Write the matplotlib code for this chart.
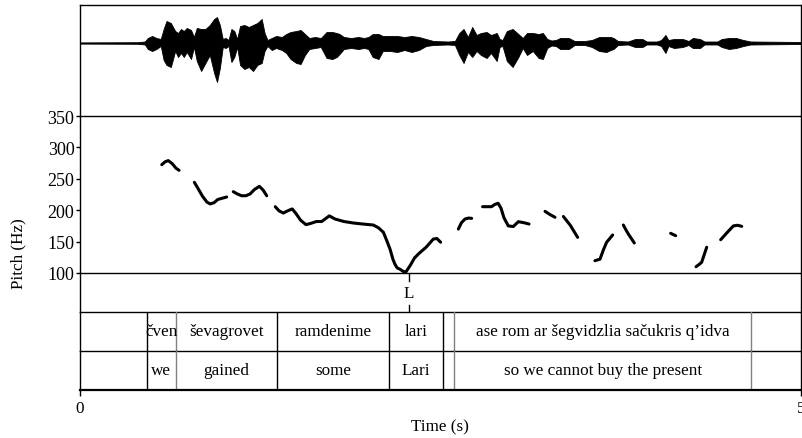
import numpy as np
import matplotlib
matplotlib.use("Agg")
import matplotlib.pyplot as plt

plt.rcParams['font.family'] = ['Liberation Serif', 'DejaVu Serif']

# ---------------- data ----------------
# waveform amplitude envelope (arbitrary units)
wave_t = [0.00, 0.40, 0.45, 0.47, 0.50, 0.53, 0.56, 0.58, 0.60, 0.63, 0.66, 0.68, 0.70, 0.72, 0.74,
          0.77, 0.79, 0.81, 0.84, 0.87, 0.90, 0.93, 0.95, 0.97, 0.99, 1.01, 1.03, 1.05, 1.07, 1.09,
          1.11, 1.14, 1.17, 1.20, 1.23, 1.26, 1.28, 1.30, 1.33, 1.36, 1.40, 1.43, 1.46, 1.50, 1.53,
          1.56, 1.59, 1.63, 1.67, 1.71, 1.75, 1.78, 1.80, 1.83, 1.88, 1.93, 1.97, 2.00, 2.03, 2.07,
          2.10, 2.15, 2.20, 2.25, 2.30, 2.35, 2.40, 2.45, 2.55, 2.60, 2.63, 2.66, 2.69, 2.72, 2.75,
          2.78, 2.82, 2.85, 2.89, 2.91, 2.93, 2.96, 3.00, 3.04, 3.07, 3.10, 3.14, 3.18, 3.21, 3.24,
          3.27, 3.30, 3.33, 3.39, 3.43, 3.50, 3.55, 3.60, 3.65, 3.68, 3.70, 3.73, 3.80, 3.85, 3.90,
          3.93, 4.00, 4.03, 4.06, 4.08, 4.12, 4.18, 4.22, 4.25, 4.30, 4.33, 4.42, 4.45, 4.50, 4.55,
          4.60, 4.65, 5.00]
wave_up = [0.6, 0.8, 1.5, 5, 7, 5, 4, 14, 22, 20, 12, 10, 14, 12, 15,
           13, 6, 15, 14, 14, 18, 24, 26, 18, 4, 5, 3, 14, 12, 4,
           17, 18, 16, 18, 20, 24, 10, 3, 5, 7, 6, 9, 11, 12, 13,
           9, 5, 6, 5, 11, 11, 10, 9, 6, 5, 6, 5, 6, 9, 9,
           7, 7, 7, 6, 7, 6, 4, 2, 1.5, 2, 10, 14, 6, 16, 8,
           10, 11, 8, 10, 4, 3, 12, 14, 9, 5, 10, 10, 9, 10, 4,
           2.5, 3, 5, 5, 2, 2, 3, 6, 6, 6, 5, 2, 1.5, 4, 4,
           1.5, 1.5, 3, 8, 3, 4, 4, 2, 5, 4, 1.5, 1.5, 4, 5, 5,
           3, 1.5, 1]
wave_lo = [0.6, 0.8, 1.5, 6, 8, 6, 3, 17, 22, 24, 8, 14, 10, 14, 9,
           16, 4, 18, 28, 20, 12, 30, 39, 25, 4, 5, 3, 19, 14, 4,
           22, 26, 24, 28, 22, 20, 8, 3, 7, 5, 7, 10, 16, 20, 21,
           12, 6, 5, 4, 15, 16, 14, 11, 6, 5, 6, 5, 6, 14, 16,
           8, 8, 9, 7, 9, 7, 3, 2, 1.5, 2, 12, 20, 9, 14, 8,
           12, 15, 10, 18, 4, 3, 18, 24, 14, 5, 12, 8, 15, 16, 5,
           2.5, 3, 6, 6, 2, 2, 4, 8, 9, 7, 6, 2, 1.5, 4, 4,
           1.5, 1.5, 3, 10, 3, 5, 4, 2, 5, 5, 1.5, 1.5, 4, 6, 5,
           3, 1.5, 1]

# pitch contour (s, Hz); None separates voiced stretches
pitch_t = [0.567, 0.59, 0.612, 0.64, 0.665, 0.687, None,
           0.793, 0.82, 0.85, 0.88, 0.902, 0.93, 0.955, 0.985, 1.017, None,
           1.063, 1.09, 1.12, 1.15, 1.18, 1.21, 1.244, 1.27, 1.295, None,
           1.354, 1.38, 1.41, 1.44, 1.472, 1.50, 1.53, 1.567, 1.60, 1.64, 1.676, 1.70, 1.729, 1.768,
           1.83, 1.896, 1.96, 2.034, 2.07, 2.104, 2.13, 2.15, 2.17, 2.184, 2.20, 2.219, 2.245, 2.261,
           2.29, 2.32, 2.35, 2.40, 2.45, 2.475, 2.501, None,
           2.624, 2.645, 2.67, 2.695, 2.716, None,
           2.792, 2.83, 2.854, 2.875, 2.90, 2.92, 2.94, 2.97, 3.005, 3.04, 3.08, 3.114, None,
           3.225, 3.26, 3.294, None,
           3.352, 3.40, 3.451, None,
           3.571, 3.606, 3.63, 3.652, 3.694, None,
           3.768, 3.79, 3.803, 3.844, None,
           4.096, 4.131, None,
           4.272, 4.29, 4.311, 4.33, 4.346, None,
           4.443, 4.49, 4.531, 4.56, 4.589]
pitch_hz = [272.5, 277, 279, 274, 267, 263.5, None,
            244.4, 234, 222, 213, 210, 212, 217, 219, 221, None,
            229.5, 226, 223, 223, 226, 233, 238, 232, 223, None,
            205.6, 199, 195.5, 199, 202, 194, 184, 177, 179, 182, 182, 186, 191, 186,
            182, 179.6, 178, 176.4, 172, 164.8, 150, 138, 122, 114, 108, 106, 102, 102,
            112, 124, 131, 141, 154, 155, 149, None,
            170, 180, 186, 187.5, 187, None,
            205.6, 205.6, 205.6, 209, 211, 203, 188, 175, 174, 181.7, 180, 178, None,
            198.2, 193, 188.7, None,
            190, 176, 156.8, None,
            119.6, 122, 137, 149, 160.5, None,
            176.4, 167, 162, 147.8, None,
            163.2, 159.4, None,
            110, 113, 117, 130, 141, None,
            153, 165, 175, 176, 174.3]

pitch_ticks = [100, 150, 200, 250, 300, 350]

# tone tier
tone_times = [2.283]
tone_labels = ["L"]

# interval tiers
bounds = [0.0, 0.4626, 0.6657, 1.364, 2.145, 2.519, 2.596, 4.653, 5.0]
bound_gray = [False, False, True, False, False, False, True, True, False]
tier1_labels = ["", "čven", "ševagrovet", "ramdenime", "lari", "",
                "ase rom ar šegvidzlia sačukris q’idva", ""]
tier2_labels = ["", "we", "gained", "some", "Lari", "",
                "so we cannot buy the present", ""]

t_min, t_max = 0.0, 5.0

# ---------------- figure ----------------
W, H = 803, 439
fig = plt.figure(figsize=(W / 100, H / 100), dpi=100)

def ax_px(top, bottom, left=80, right=801):
    return fig.add_axes([left / W, 1 - bottom / H, (right - left) / W, (bottom - top) / H])

lw_ax = 1.0
fs = 12.3

ax_w = ax_px(6, 117)
ax_p = ax_px(117, 274)
ax_l = ax_px(274, 313)
ax_1 = ax_px(313, 352)
ax_2 = ax_px(352, 391)

for a in (ax_w, ax_p, ax_l, ax_1, ax_2):
    a.set_xlim(t_min, t_max)
    a.set_xticks([])
    a.set_yticks([])
    a.patch.set_alpha(0)
    for s in a.spines.values():
        s.set_linewidth(lw_ax)
        s.set_color('black')

# waveform
ax_w.fill_between(wave_t, wave_up, [-v for v in wave_lo], color='black', lw=0.6)
ax_w.set_ylim(-73, 38)
ax_w.spines['bottom'].set_visible(False)

# pitch
pt = np.array([np.nan if v is None else v for v in pitch_t], dtype=float)
ph = np.array([np.nan if v is None else v for v in pitch_hz], dtype=float)
ax_p.plot(pt, ph, color='black', lw=2.2, solid_capstyle='round', solid_joinstyle='round')
ax_p.set_ylim(100, 350)
ax_p.set_yticks(pitch_ticks)
ax_p.set_yticklabels([str(v) for v in pitch_ticks])
ax_p.tick_params(axis='y', direction='out', length=3, width=lw_ax, pad=1, labelsize=13)

# tone tier
ax_l.spines['top'].set_visible(False)
ax_l.set_ylim(0, 1)
for t, lab in zip(tone_times, tone_labels):
    ax_l.plot([t, t], [0.0, 0.18], color='black', lw=1.0)
    ax_l.plot([t, t], [0.80, 1.0], color='black', lw=1.0)
    ax_l.text(t, 0.49, lab, ha='center', va='center', fontsize=fs)

# interval tiers
for a, labels in ((ax_1, tier1_labels), (ax_2, tier2_labels)):
    a.spines['top'].set_visible(False)
    a.set_ylim(0, 1)
    for b, g in zip(bounds[1:-1], bound_gray[1:-1]):
        a.axvline(b, color=('#808080' if g else 'black'), lw=1.0)
    for i, lab in enumerate(labels):
        if lab:
            a.text((bounds[i] + bounds[i + 1]) / 2, 0.5, lab, ha='center', va='center', fontsize=fs)

ax_2.spines['bottom'].set_linewidth(1.6)
ax_2.set_xticks([t_min, t_max])
ax_2.set_xticklabels(["0", "5"])
ax_2.tick_params(axis='x', direction='out', length=4, width=lw_ax, pad=3, labelsize=fs)

fig.text(440 / W, 1 - 427 / H, "Time (s)", ha='center', va='center', fontsize=fs)
fig.text(18 / W, 1 - 254 / H, "Pitch (Hz)", ha='center', va='center', rotation=90, fontsize=fs)

fig.savefig("out.png", dpi=100)
